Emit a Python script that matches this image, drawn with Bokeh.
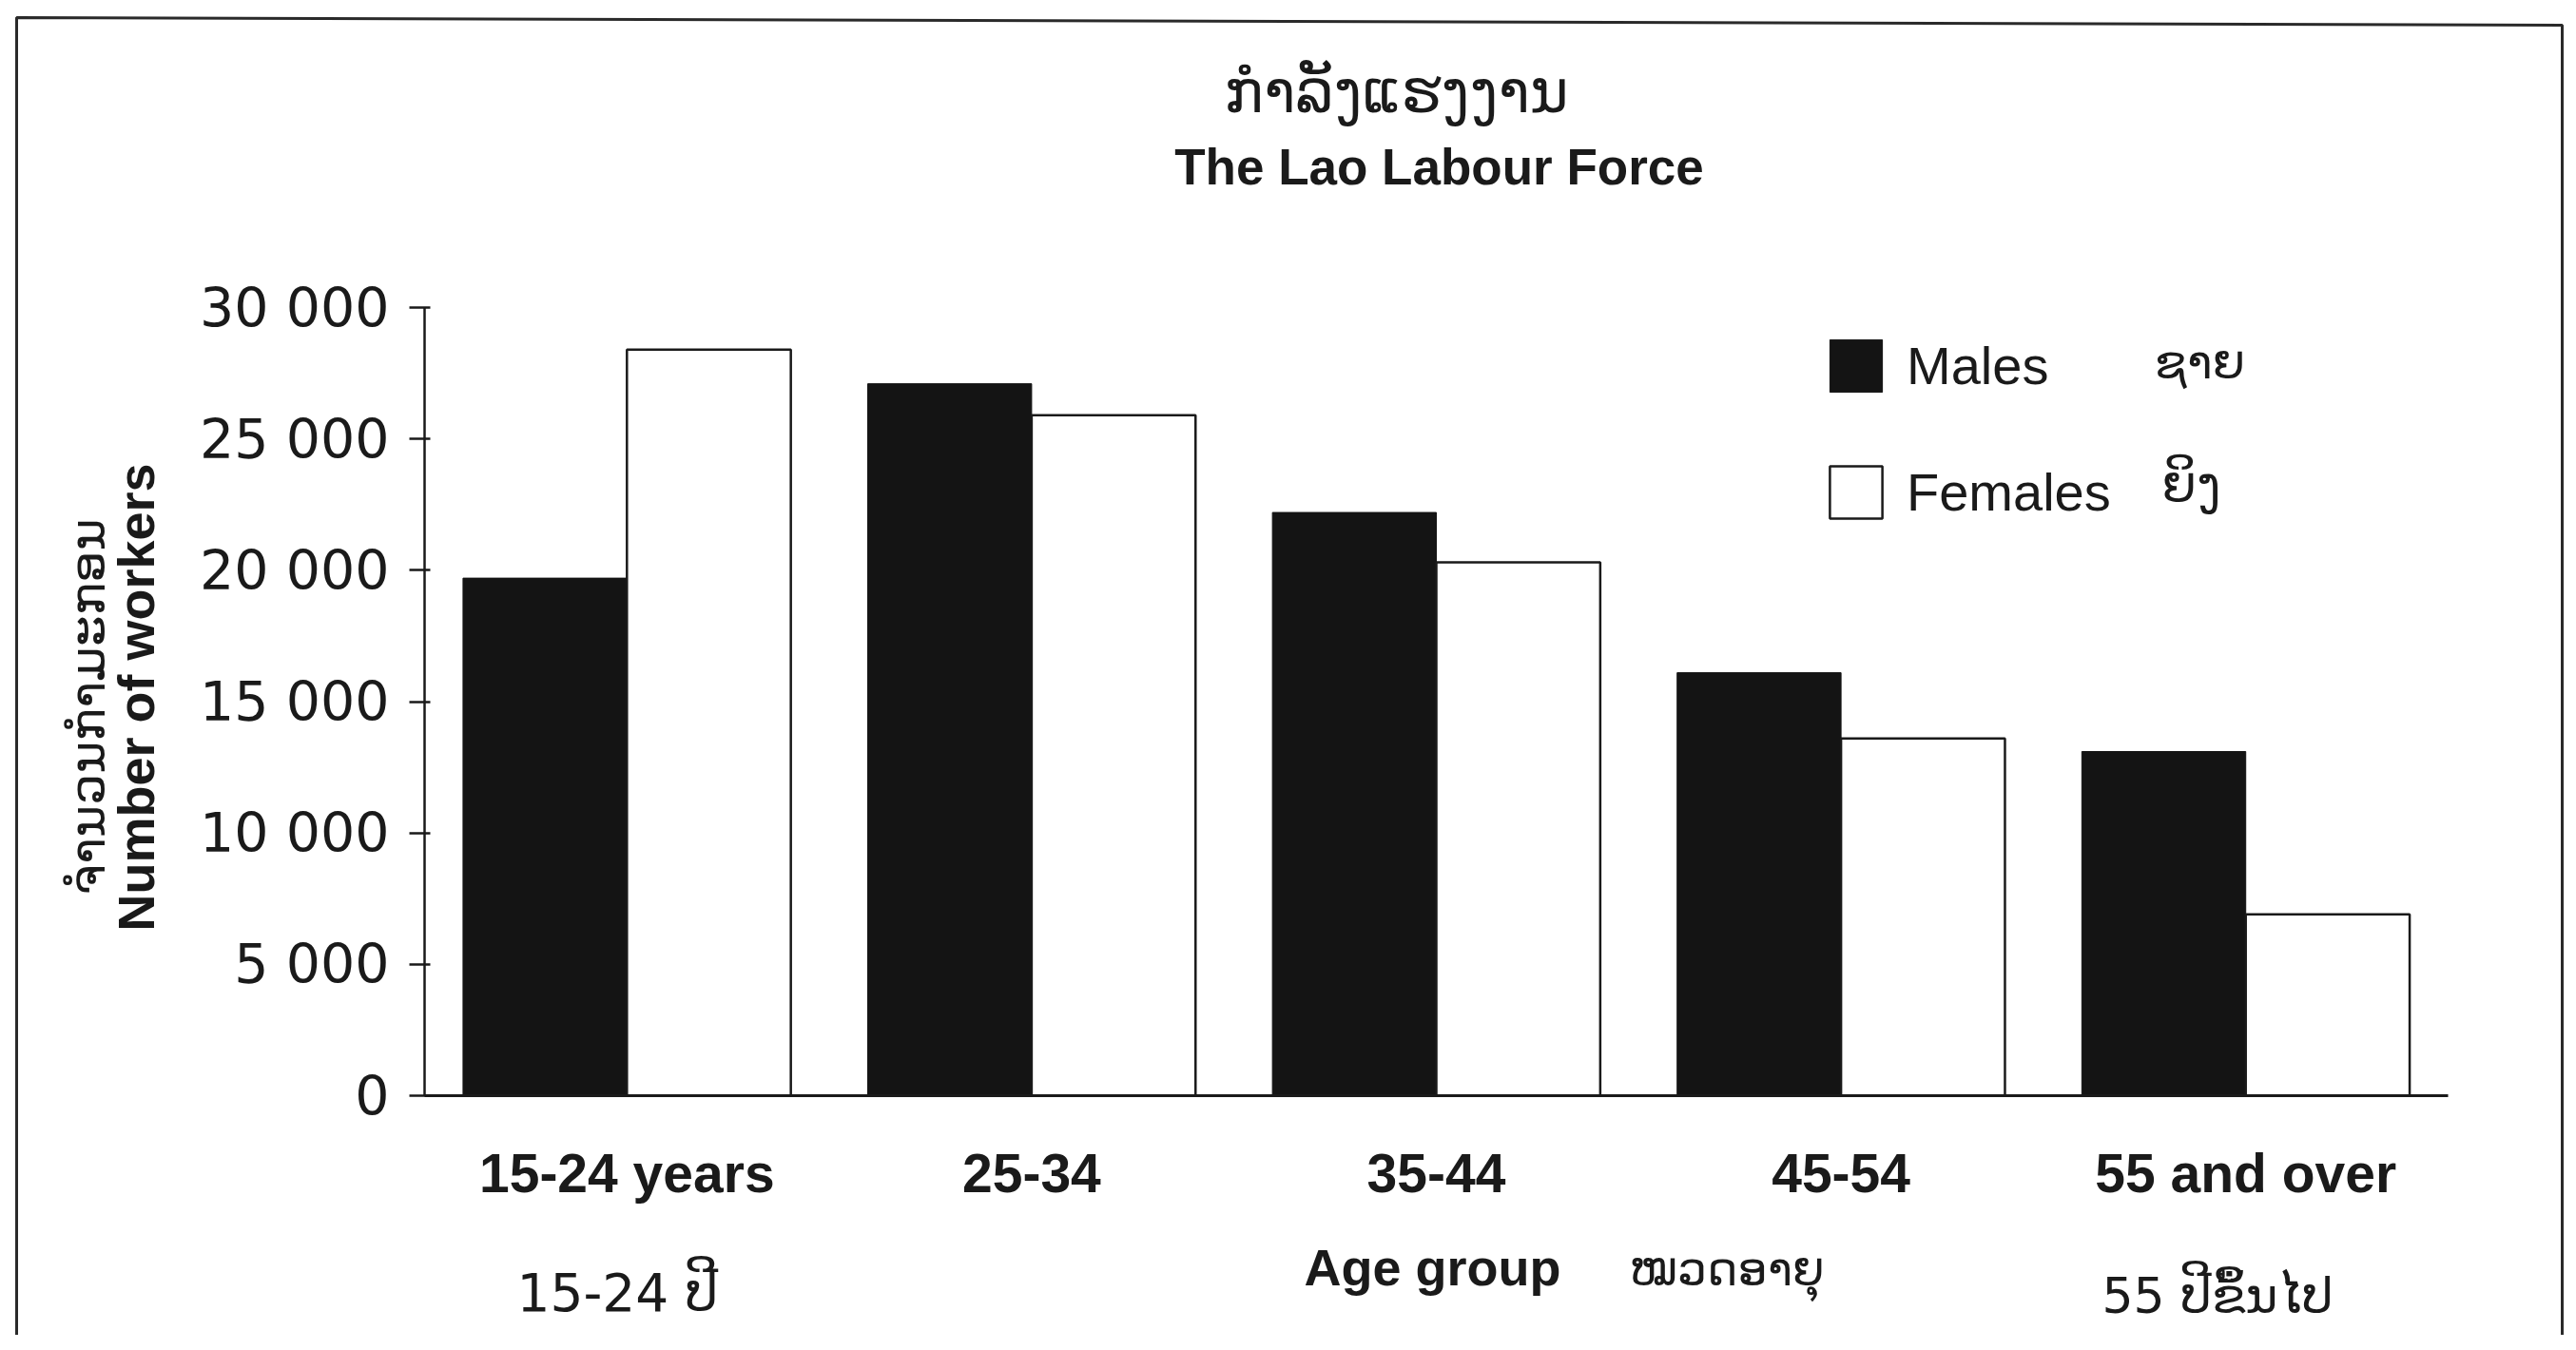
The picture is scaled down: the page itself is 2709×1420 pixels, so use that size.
import math
from bokeh.plotting import figure
from bokeh.models import (Range1d, Legend, LegendItem, Label, LinearAxis,
                          PolyAnnotation, ColumnDataSource, FixedTicker)
from bokeh.embed import file_html
from bokeh.resources import INLINE

# ---------------- data ----------------
age_groups = ["15-24 years", "25-34", "35-44", "45-54", "55 and over"]
males = [19700, 27100, 22200, 16100, 13100]
females = [28400, 25900, 20300, 13600, 6900]
y_ticks = [0, 5000, 10000, 15000, 20000, 25000, 30000]
y_max = 30000

title_lao = "ກຳລັງແຮງງານ"
title_en = "The Lao Labour Force"
ylabel_lao = "ຈຳນວນກຳມະກອນ"
ylabel_en = "Number of workers"
xlabel_en = "Age group"
xlabel_lao = "ໝວດອາຍຸ"
first_group_lao = "15-24 ປີ"
last_group_lao = "55 ປີຂຶ້ນໄປ"
legend_en = ["Males", "Females"]
legend_lao = ["ຊາຍ", "ຍິງ"]

# ---------------- layout ----------------
W, H = 2700, 1404
X0, X1 = 446, 2574      # figure px of the bar area (left/right)
Y0, Y1 = 1152, 323      # figure px of value 0 and of y_max
INK = "#1a1a1a"
LAO_FONT = "DejaVu Sans"
EN_FONT = "Liberation Sans"

n = len(age_groups)
xu = (X1 - X0) / n               # px per category
yu = (Y0 - Y1) / y_max           # px per worker

# the frame covers the whole canvas; axes are pinned inside it
p = figure(width=W, height=H,
           x_range=Range1d(-X0 / xu, (W - X0) / xu),
           y_range=Range1d(-(H - Y0) / yu, Y0 / yu),
           x_axis_type=None, y_axis_type=None,
           output_backend="svg", toolbar_location=None,
           min_border=0, min_border_left=0, min_border_right=0,
           min_border_top=0, min_border_bottom=0)
p.title.visible = False
p.outline_line_color = None
p.grid.visible = False
p.background_fill_color = "white"
p.border_fill_color = "white"

centers = [i + 0.5 for i in range(n)]
bw = 0.405
src = ColumnDataSource(dict(
    xm=[c - bw / 2 for c in centers], xf=[c + bw / 2 for c in centers],
    males=males, females=females))
r_m = p.vbar(x="xm", top="males", width=bw, source=src,
             fill_color="#141414", line_color="#141414", line_width=1)
r_f = p.vbar(x="xf", top="females", width=bw, source=src,
             fill_color="white", line_color=INK, line_width=2.5)

# x axis
xa = LinearAxis(fixed_location=0, bounds=(0, n),
                ticker=FixedTicker(ticks=centers),
                major_label_overrides={c: g for c, g in zip(centers, age_groups)})
xa.axis_line_color = INK
xa.axis_line_width = 3
xa.major_tick_line_color = None
xa.minor_tick_line_color = None
xa.major_tick_out = 0
xa.major_tick_in = 0
xa.major_label_text_font = EN_FONT
xa.major_label_text_font_style = "bold"
xa.major_label_text_font_size = "57px"
xa.major_label_text_color = INK
xa.major_label_standoff = 49
p.add_layout(xa, "below")

# y axis
ya = LinearAxis(fixed_location=0, bounds=(0, y_max),
                ticker=FixedTicker(ticks=y_ticks),
                major_label_overrides={v: f"{v:,}".replace(",", " ") for v in y_ticks})
ya.axis_line_color = INK
ya.axis_line_width = 2.5
ya.major_tick_line_color = INK
ya.major_tick_line_width = 2.5
ya.major_tick_out = 16
ya.major_tick_in = 6
ya.minor_tick_line_color = None
ya.major_label_text_font = LAO_FONT
ya.major_label_text_font_size = "57px"
ya.major_label_text_color = INK
ya.major_label_standoff = 21
p.add_layout(ya, "left")

# legend
legend = Legend(items=[LegendItem(label=legend_en[0], renderers=[r_m]),
                       LegendItem(label=legend_en[1], renderers=[r_f])],
                location=(1917, H - 564),
                glyph_width=69, glyph_height=69, label_height=93,
                label_text_font=EN_FONT, label_text_font_size="56px",
                label_text_color=INK, label_standoff=19, spacing=40,
                padding=0, margin=0, border_line_color=None,
                background_fill_alpha=0)
p.add_layout(legend, "center")

def lab(text, x, y, size, font=EN_FONT, bold=False, align="left", angle=0.0):
    """x, y: figure pixels (from top-left); baseline anchored."""
    p.add_layout(Label(x=x, y=H - y, x_units="screen", y_units="screen",
                       text=text, text_font=font, text_font_size=f"{size}px",
                       text_font_style="bold" if bold else "normal",
                       text_color=INK, text_align=align,
                       text_baseline="alphabetic", angle=angle))

# titles
lab(title_lao, 1468, 96, 62, font=LAO_FONT, align="center")
lab(title_en, 1513, 175, 53, bold=True, align="center")
# y-axis labels (rotated)
lab(ylabel_lao, 91, 743, 52, font=LAO_FONT, align="center", angle=math.pi / 2)
lab(ylabel_en, 142, 733, 54, bold=True, align="center", angle=math.pi / 2)
# bottom texts
lab(first_group_lao, 543, 1359, 55, font=LAO_FONT)
lab(xlabel_en, 1371, 1332, 54, bold=True)
lab(xlabel_lao, 1713, 1335, 49, font=LAO_FONT)
lab(last_group_lao, 2210, 1362, 52, font=LAO_FONT)
# legend Lao words
lab(legend_lao[0], 2265, 380, 50, font=LAO_FONT)
lab(legend_lao[1], 2273, 509, 53, font=LAO_FONT)

# outer frame box of the page
p.add_layout(PolyAnnotation(xs=[17, 2694, 2694, 17],
                            ys=[H - 18, H - 26, H - 1415, H - 1415],
                            xs_units="screen", ys_units="screen",
                            fill_alpha=0, line_color="#2a2a2a",
                            line_alpha=1.0, line_width=3))

open("out.html", "w").write(file_html(p, INLINE))
